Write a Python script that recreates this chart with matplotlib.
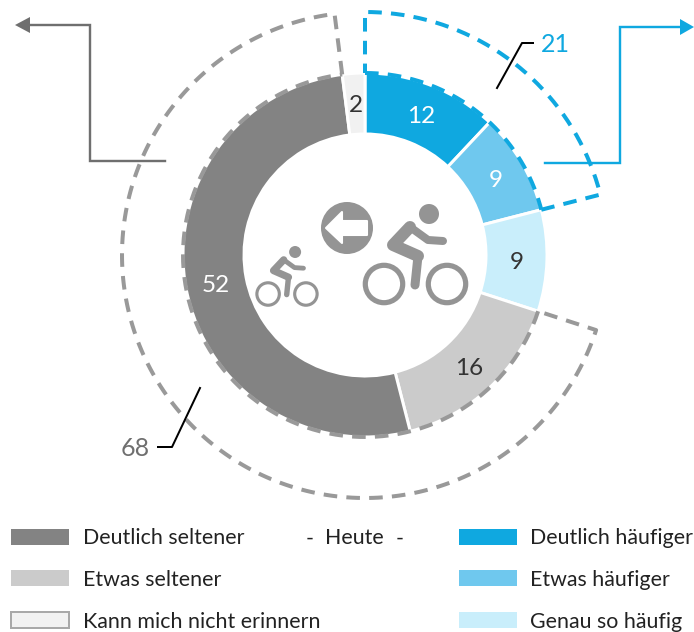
"""
Donut chart - Radfahren heute im Vergleich zu frueher
"""

import numpy as np
import matplotlib
matplotlib.use("Agg")
import matplotlib.pyplot as plt
from matplotlib.patches import Circle, Polygon, Rectangle

plt.rcParams["font.family"] = ["Lato", "DejaVu Sans"]

# ---------------------------------------------------------------------------
# Data
# ---------------------------------------------------------------------------
categories = ["Deutlich häufiger", "Etwas häufiger", "Genau so häufig",
              "Etwas seltener", "Deutlich seltener", "Kann mich nicht erinnern"]
values = [12, 9, 9, 16, 52, 2]
colors = ["#0fa8e0", "#6fc8ee", "#c9eefb", "#cbcbcb", "#838383", "#f1f1f1"]
label_colors = ["white", "white", "#333333", "#333333", "white", "#333333"]
group_more = 21
group_less = 68

# canvas is in pixels, y flipped by hand through py()
W, H = 694, 632
CX, CY = 365, 255
R_OUT, R_IN, R_GROUP = 182, 122, 243
BLUE, GRAY, DARK = "#0fa8e0", "#999999", "#6f6f6f"
FS = 15.4
PX = 0.72


def py(y):
    return H - y


def polar(r, pct):
    a = np.asarray(pct) * 3.6 * np.pi / 180
    return CX + r * np.sin(a), py(CY) + r * np.cos(a)


fig = plt.figure(figsize=(W / 100, H / 100), dpi=100)
ax = fig.add_axes([0, 0, 1, 1])

ax.pie(values, colors=colors, startangle=90, counterclock=False, radius=R_OUT,
       center=(CX, py(CY)), frame=True,
       wedgeprops=dict(width=R_OUT - R_IN + 1, edgecolor="white", linewidth=3 * PX))
ax.set_xlim(0, W)
ax.set_ylim(0, H)
ax.set_aspect("equal")
ax.axis("off")

# segment labels
cum = np.cumsum(values)
for v, end, c in zip(values, cum, label_colors):
    x, y = polar((R_OUT + R_IN) / 2, end - v / 2)
    ax.text(x, y - 2.5, str(v), color=c, fontsize=17.5, ha="center", va="center")


# ---------------------------------------------------------------------------
# Dashed group outlines
# ---------------------------------------------------------------------------
def group_outline(start, stop, color):
    t = np.linspace(start, stop, 200)
    dash = dict(color=color, lw=4 * PX, ls=(0, (3.4, 2.3)))
    xo, yo = polar(R_GROUP, t)
    xi, yi = polar(R_OUT, t)
    ax.plot(xi, yi, **dash)
    xs, ys = polar(np.array([R_OUT, R_GROUP]), np.array([stop, stop]))
    ax.plot(np.r_[xs, xo[::-1], polar(R_OUT, start)[0]],
            np.r_[ys, yo[::-1], polar(R_OUT, start)[1]], **dash)


group_outline(cum[4] - values[4] - values[3], cum[4], GRAY)
group_outline(0, cum[1], BLUE)


# ---------------------------------------------------------------------------
# Connector arrows and leaders
# ---------------------------------------------------------------------------
def elbow(xs, ys, color, tip, base):
    ax.plot(xs, [py(y) for y in ys], color=color, lw=2.4 * PX, solid_joinstyle="miter")
    y = py(ys[-1])
    ax.add_patch(Polygon([(tip, y), (base, y + 8), (base, y - 8)], fc=color, ec="none"))


elbow([545, 620, 620, 682], [163, 163, 27, 27], BLUE, 694, 680)
elbow([165, 90, 90, 28], [161, 161, 25, 25], DARK, 15, 30)

ax.plot([497, 522, 533], [py(88), py(43), py(43)], color="black", lw=2 * PX)
ax.plot([200, 172, 158], [py(388), py(447), py(447)], color="black", lw=2 * PX)
ax.text(541, py(44.5), str(group_more), color=BLUE, fontsize=18, va="center")
ax.text(150, py(448.5), str(group_less), color=DARK, fontsize=18, va="center", ha="right")


# ---------------------------------------------------------------------------
# Icons
# ---------------------------------------------------------------------------
def cyclist(x0, y0, s):
    ic = "#949494"
    ax.add_patch(Circle((x0 + 14 * s, py(y0 - 41 * s)), 10 * s, fc=ic, ec="none"))
    for dx in (-31, 32):
        ax.add_patch(Circle((x0 + dx * s, py(y0 + 29 * s)), 18.7 * s, fc="none",
                            ec=ic, lw=5.2 * s * PX))
    torso_x = np.array([-5, -22, 3])
    torso_y = np.array([-28, -10, 1])
    ax.plot(x0 + torso_x * s, py(y0 + torso_y * s), color=ic, lw=12 * s * PX,
            solid_capstyle="round", solid_joinstyle="round")
    leg_x = np.array([3, 0])
    leg_y = np.array([1, 30])
    ax.plot(x0 + leg_x * s, py(y0 + leg_y * s), color=ic, lw=9 * s * PX,
            solid_capstyle="round")
    arm_x = np.array([-5, 13, 28])
    arm_y = np.array([-28, -15, -14])
    ax.plot(x0 + arm_x * s, py(y0 + arm_y * s), color=ic, lw=8 * s * PX,
            solid_capstyle="round", solid_joinstyle="round")


cyclist(415, 255, 1)
cyclist(286.7, 276.6, 0.6)

ax.add_patch(Circle((347, py(228)), 26, fc="#949494", ec="none"))
ax.add_patch(Polygon([(326, py(228)), (342, py(212)), (342, py(221)), (367, py(221)),
                      (367, py(235)), (342, py(235)), (342, py(243))],
                     fc="white", ec="white", lw=1.5, joinstyle="round"))

# ---------------------------------------------------------------------------
# Legend
# ---------------------------------------------------------------------------
legend_rows = [(11, 83, 537, 4), (11, 83, 578, 3), (11, 83, 620, 5),
               (459, 530, 537, 0), (459, 530, 578, 1), (459, 530, 620, 2)]
for sx, tx, y, i in legend_rows:
    edge = "#a8a8a8" if i == 5 else "none"
    ax.add_patch(Rectangle((sx, py(y + 8)), 58, 16, fc=colors[i], ec=edge, lw=2 * PX))
    ax.text(tx, py(y + 1.5), categories[i], color="#222222", fontsize=FS, va="center")

ax.text(306, py(538.5), "-", color="#222222", fontsize=FS, va="center")
ax.text(354, py(538.5), "Heute", color="#222222", fontsize=FS, va="center", ha="center")
ax.text(396, py(538.5), "-", color="#222222", fontsize=FS, va="center")

plt.savefig("out.png", dpi=100)
plt.close()
